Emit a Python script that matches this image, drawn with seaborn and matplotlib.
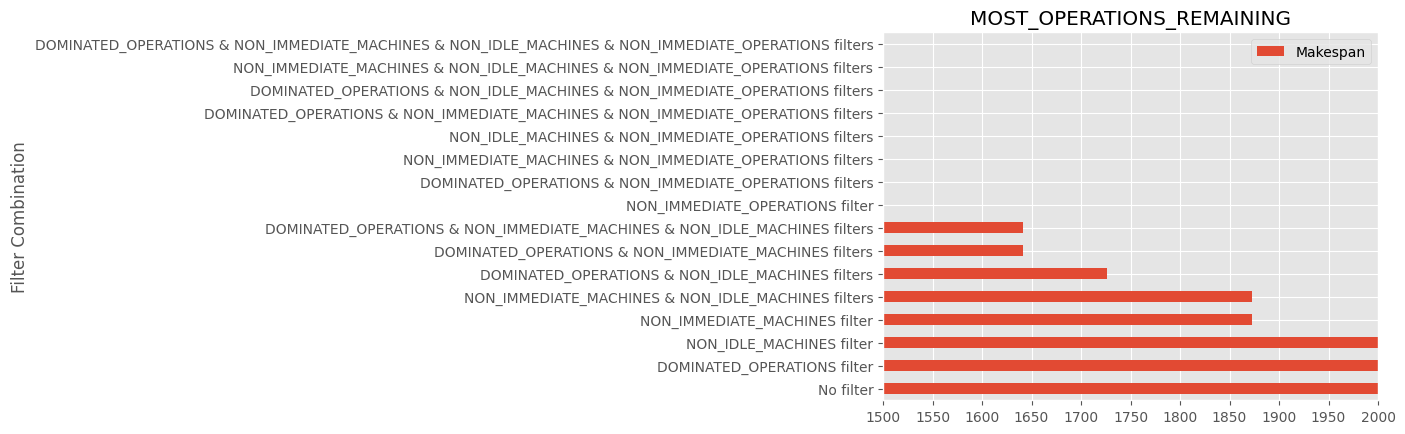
import matplotlib
matplotlib.use("Agg")
import matplotlib.pyplot as plt
import seaborn as sns
import pandas as pd

categories = [
    "DOMINATED_OPERATIONS & NON_IMMEDIATE_MACHINES & NON_IDLE_MACHINES & NON_IMMEDIATE_OPERATIONS filters",
    "NON_IMMEDIATE_MACHINES & NON_IDLE_MACHINES & NON_IMMEDIATE_OPERATIONS filters",
    "DOMINATED_OPERATIONS & NON_IDLE_MACHINES & NON_IMMEDIATE_OPERATIONS filters",
    "DOMINATED_OPERATIONS & NON_IMMEDIATE_MACHINES & NON_IMMEDIATE_OPERATIONS filters",
    "NON_IDLE_MACHINES & NON_IMMEDIATE_OPERATIONS filters",
    "NON_IMMEDIATE_MACHINES & NON_IMMEDIATE_OPERATIONS filters",
    "DOMINATED_OPERATIONS & NON_IMMEDIATE_OPERATIONS filters",
    "NON_IMMEDIATE_OPERATIONS filter",
    "DOMINATED_OPERATIONS & NON_IMMEDIATE_MACHINES & NON_IDLE_MACHINES filters",
    "DOMINATED_OPERATIONS & NON_IMMEDIATE_MACHINES filters",
    "DOMINATED_OPERATIONS & NON_IDLE_MACHINES filters",
    "NON_IMMEDIATE_MACHINES & NON_IDLE_MACHINES filters",
    "NON_IMMEDIATE_MACHINES filter",
    "NON_IDLE_MACHINES filter",
    "DOMINATED_OPERATIONS filter",
    "No filter",
]
makespan = [0, 0, 0, 0, 0, 0, 0, 0, 1641, 1641, 1726, 1873, 1873, 2050, 2050, 2050]

df = pd.DataFrame({"Filter Combination": categories, "Makespan": makespan})

plt.style.use("ggplot")
fig = plt.figure(figsize=(14.05, 4.35), dpi=100)
ax = fig.add_axes([0.6285, 0.078, 0.3523, 0.846])
sns.barplot(data=df, x="Makespan", y="Filter Combination", orient="h",
            order=categories, color="#E24A33", saturation=1, width=0.5,
            label="Makespan", ax=ax)
ax.set_xlim(1500, 2000)
ax.set_xticks(range(1500, 2001, 50))
ax.grid(True, axis="both", color="white")
ax.set_axisbelow(True)
ax.set_xlabel("")
ax.set_ylabel("Filter Combination")
ax.set_title("MOST_OPERATIONS_REMAINING")
ax.legend(loc="upper right")
fig.savefig("out.png", dpi=100)
